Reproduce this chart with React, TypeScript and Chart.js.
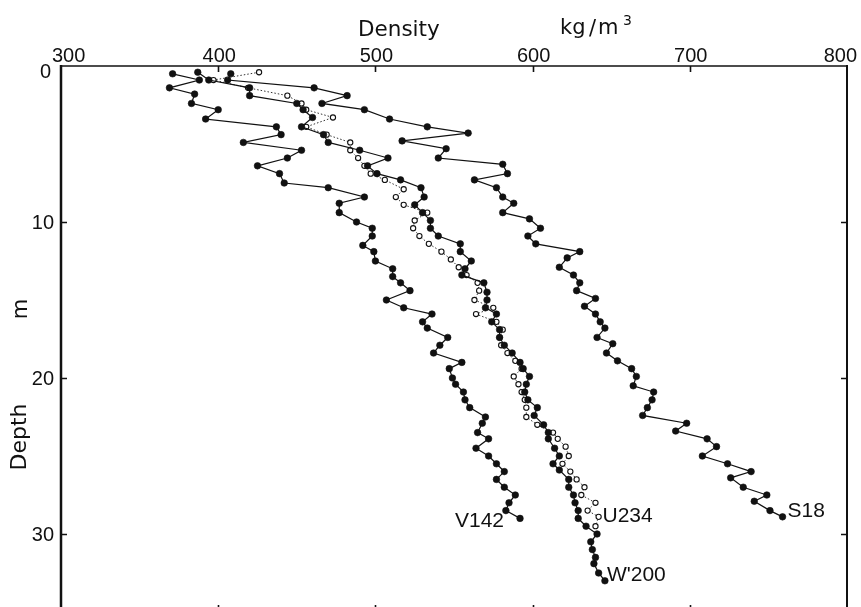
import React, { useEffect, useRef } from "react";
import { Chart, registerables } from "chart.js";

Chart.register(...registerables);

// ---- Data (density kg/m3 vs depth m) ----
const X_TICKS = [300, 400, 500, 600, 700, 800];
const Y_TICKS = [0, 10, 20, 30];

const DEPTH_V142 = [0.5, 0.9, 1.4, 1.8, 2.4, 2.8, 3.4, 3.9, 4.4, 4.9, 5.4, 5.9, 6.4, 6.9, 7.5, 7.8, 8.4, 8.8, 9.4, 10.0, 10.4, 10.9, 11.5, 11.9, 12.5, 13.0, 13.5, 13.9, 14.4, 15.0, 15.5, 15.9, 16.4, 16.8, 17.4, 17.9, 18.4, 19.0, 19.4, 20.0, 20.4, 20.9, 21.4, 21.9, 22.5, 22.9, 23.5, 23.9, 24.5, 25.0, 25.5, 26.0, 26.5, 27.0, 27.5, 28.0, 28.5, 29.0];
const DENS_V142 = [371, 388, 369, 385, 383, 400, 392, 437, 440, 416, 453, 444, 425, 439, 442, 470, 493, 477, 477, 488, 498, 498, 492, 499, 500, 511, 511, 516, 522, 507, 518, 536, 530, 533, 546, 541, 537, 555, 547, 549, 551, 556, 557, 560, 570, 568, 565, 572, 564, 572, 577, 582, 577, 582, 589, 585, 583, 592];

const DEPTH_W200 = [0.4, 0.9, 1.4, 1.9, 2.4, 2.8, 3.3, 3.9, 4.4, 4.9, 5.4, 5.9, 6.4, 6.9, 7.3, 7.8, 8.4, 8.9, 9.4, 9.9, 10.4, 10.9, 11.4, 11.9, 12.5, 13.0, 13.4, 13.9, 14.5, 15.0, 15.5, 15.9, 16.4, 16.9, 17.4, 17.9, 18.4, 19.0, 19.4, 19.9, 20.4, 20.9, 21.4, 21.9, 22.4, 23.0, 23.5, 23.9, 24.5, 25.0, 25.5, 25.9, 26.5, 27.0, 27.5, 28.0, 28.5, 29.0, 29.5, 30.0, 30.5, 31.0, 31.5, 31.9, 32.5, 33.0];
const DENS_W200 = [387, 394, 420, 420, 450, 454, 460, 453, 467, 470, 490, 508, 495, 501, 516, 529, 531, 525, 530, 535, 535, 540, 554, 554, 561, 557, 555, 569, 571, 571, 570, 577, 574, 579, 579, 582, 587, 592, 594, 598, 596, 595, 597, 603, 601, 607, 610, 610, 614, 617, 613, 617, 623, 623, 626, 627, 629, 629, 634, 641, 637, 638, 640, 639, 642, 646];

const DEPTH_U234 = [0.4, 0.9, 1.4, 1.9, 2.4, 2.8, 3.3, 3.9, 4.4, 4.9, 5.4, 5.9, 6.4, 6.9, 7.3, 7.9, 8.4, 8.9, 9.4, 9.9, 10.4, 10.9, 11.4, 11.9, 12.4, 12.9, 13.4, 13.9, 14.4, 15.0, 15.5, 15.9, 16.4, 16.9, 17.4, 17.9, 18.4, 18.9, 19.4, 19.9, 20.4, 20.9, 21.4, 21.9, 22.5, 23.0, 23.5, 23.9, 24.4, 25.0, 25.5, 26.0, 26.5, 27.0, 27.5, 28.0, 28.5, 28.9, 29.5];
const DENS_U234 = [426, 397, 419, 444, 453, 456, 473, 456, 469, 484, 484, 489, 493, 497, 506, 518, 513, 518, 533, 525, 524, 528, 534, 542, 548, 553, 558, 565, 566, 563, 575, 564, 577, 581, 579, 580, 584, 589, 593, 588, 591, 593, 595, 596, 596, 603, 613, 616, 621, 623, 619, 624, 628, 633, 631, 640, 635, 642, 640];

const DEPTH_S18 = [0.5, 0.9, 1.4, 1.9, 2.4, 2.8, 3.4, 3.9, 4.3, 4.8, 5.3, 5.9, 6.3, 6.9, 7.3, 7.8, 8.4, 8.8, 9.4, 9.8, 10.4, 10.9, 11.4, 11.9, 12.3, 12.9, 13.4, 13.9, 14.4, 14.9, 15.4, 15.9, 16.4, 16.8, 17.4, 17.8, 18.4, 18.9, 19.4, 19.9, 20.5, 20.9, 21.4, 21.9, 22.4, 22.9, 23.4, 23.9, 24.4, 25.0, 25.5, 26.0, 26.4, 27.0, 27.5, 27.9, 28.5, 28.9];
const DENS_S18 = [408, 406, 461, 482, 466, 493, 509, 533, 559, 517, 545, 540, 581, 584, 563, 577, 581, 588, 581, 598, 605, 597, 602, 630, 622, 617, 626, 630, 628, 640, 633, 640, 643, 646, 641, 651, 647, 654, 663, 666, 664, 677, 676, 673, 670, 698, 691, 711, 717, 708, 724, 739, 726, 734, 749, 741, 751, 759];

const toPoints = (dens: number[], depth: number[]) =>
  dens.map((v, i) => ({ x: v, y: depth[i] }));

const INK = "#111";
const SANS = '"Liberation Sans", Arial, sans-serif';
const DEJAVU = '"DejaVu Sans", sans-serif';

const framePlugin = {
  id: "framePlugin",
  beforeDraw(chart: any) {
    const { ctx, width, height } = chart;
    ctx.save();
    ctx.fillStyle = "#fff";
    ctx.fillRect(0, 0, width, height);
    ctx.restore();
  },
  afterDraw(chart: any) {
    const { ctx, chartArea: a, scales } = chart;
    const xs = scales.x;
    const ys = scales.y;
    ctx.save();
    ctx.strokeStyle = INK;
    ctx.lineCap = "butt";
    // frame
    ctx.lineWidth = 2.5;
    ctx.beginPath();
    ctx.moveTo(a.left, a.top - 1);
    ctx.lineTo(a.left, a.bottom);
    ctx.stroke();
    ctx.lineWidth = 1.6;
    ctx.beginPath();
    ctx.moveTo(a.left, a.top);
    ctx.lineTo(a.right, a.top);
    ctx.stroke();
    ctx.lineWidth = 2;
    ctx.beginPath();
    ctx.moveTo(a.right, a.top - 1);
    ctx.lineTo(a.right, a.bottom);
    ctx.stroke();
    // inner ticks
    ctx.lineWidth = 1.6;
    X_TICKS.forEach((v) => {
      if (v <= xs.min || v >= xs.max) return;
      const px = Math.round(xs.getPixelForValue(v)) + 0.5;
      ctx.beginPath();
      ctx.moveTo(px, a.top);
      ctx.lineTo(px, a.top + 6);
      ctx.moveTo(px, a.bottom);
      ctx.lineTo(px, a.bottom - 7);
      ctx.stroke();
    });
    Y_TICKS.forEach((v) => {
      if (v <= ys.min || v >= ys.max) return;
      const py = Math.round(ys.getPixelForValue(v)) + 0.5;
      ctx.beginPath();
      ctx.moveTo(a.left, py);
      ctx.lineTo(a.left + 6, py);
      ctx.moveTo(a.right, py);
      ctx.lineTo(a.right - 6, py);
      ctx.stroke();
    });
    // tick labels
    ctx.fillStyle = INK;
    ctx.font = `20px ${SANS}`;
    ctx.textBaseline = "alphabetic";
    X_TICKS.forEach((v, i) => {
      const px = xs.getPixelForValue(v);
      if (i === 0) {
        ctx.textAlign = "left";
        ctx.fillText(String(v), px - 9, 62);
      } else if (i === X_TICKS.length - 1) {
        ctx.textAlign = "right";
        ctx.fillText(String(v), px + 10, 62);
      } else {
        ctx.textAlign = "center";
        ctx.fillText(String(v), px + 1, 62);
      }
    });
    ctx.textAlign = "right";
    ctx.textBaseline = "middle";
    Y_TICKS.forEach((v) => {
      const py = ys.getPixelForValue(v);
      if (v === 0) ctx.fillText(String(v), 51, py + 6);
      else ctx.fillText(String(v), 54, py + 1);
    });
    // axis titles
    ctx.textAlign = "left";
    ctx.textBaseline = "alphabetic";
    ctx.font = `21.5px ${DEJAVU}`;
    ctx.fillText("Density", 358, 36);
    ctx.font = `21px ${DEJAVU}`;
    ctx.fillText("kg", 560, 34);
    ctx.fillText("/", 589, 35);
    ctx.fillText("m", 598, 34);
    ctx.font = `14px ${DEJAVU}`;
    ctx.fillText("3", 623, 25);

    ctx.save();
    ctx.translate(26, 437);
    ctx.rotate(-Math.PI / 2);
    ctx.font = `22px ${DEJAVU}`;
    ctx.textAlign = "center";
    ctx.fillText("Depth", 0, 0);
    ctx.restore();
    ctx.save();
    ctx.translate(27, 309);
    ctx.rotate(-Math.PI / 2);
    ctx.font = `21px ${DEJAVU}`;
    ctx.textAlign = "center";
    ctx.fillText("m", 0, 0);
    ctx.restore();

    // series labels near last points
    ctx.font = `21px ${SANS}`;
    ctx.textBaseline = "middle";
    chart.data.datasets.forEach((ds: any) => {
      const last = ds.data[ds.data.length - 1];
      const px = xs.getPixelForValue(last.x);
      const py = ys.getPixelForValue(last.y);
      const lab = ds.label;
      if (lab === "V142") {
        ctx.textAlign = "right";
        ctx.fillText(lab, px - 16, py + 3);
      } else if (lab === "U234") {
        ctx.textAlign = "left";
        ctx.fillText(lab, px + 7, py - 10);
      } else if (lab === "W'200") {
        ctx.textAlign = "left";
        ctx.fillText(lab, px + 2, py - 6);
      } else {
        ctx.textAlign = "left";
        ctx.fillText(lab, px + 5, py - 6);
      }
    });
    ctx.restore();
  },
};

export default function App() {
  const ref = useRef<HTMLCanvasElement | null>(null);

  useEffect(() => {
    if (!ref.current) return;
    let chart: Chart | null = null;
    let cancelled = false;
    const filled = (label: string, dens: number[], depth: number[]) => ({
      label,
      data: toPoints(dens, depth),
      showLine: true,
      borderColor: INK,
      borderWidth: 1.2,
      pointRadius: 3.3,
      pointBackgroundColor: INK,
      pointBorderColor: INK,
      pointBorderWidth: 0.6,
      tension: 0,
    });
    const build = () => {
      if (cancelled || !ref.current) return;
      chart = new Chart(ref.current, {
        type: "scatter",
        data: {
          datasets: [
            filled("W'200", DENS_W200, DEPTH_W200),
            {
              label: "U234",
              data: toPoints(DENS_U234, DEPTH_U234),
              showLine: true,
              borderColor: "#333",
              borderWidth: 1,
              borderDash: [1.5, 2],
              pointRadius: 2.6,
              pointBackgroundColor: "#fff",
              pointBorderColor: INK,
              pointBorderWidth: 1.1,
              tension: 0,
            },
            filled("V142", DENS_V142, DEPTH_V142),
            filled("S18", DENS_S18, DEPTH_S18),
          ],
        },
        options: {
          animation: false,
          responsive: false,
          maintainAspectRatio: false,
          layout: { padding: { left: 61, right: 14, top: 66, bottom: 8 } },
          plugins: {
            legend: { display: false },
            tooltip: { enabled: false },
            title: { display: false },
          },
          scales: {
            x: { type: "linear", min: 300, max: 800, display: false },
            y: { type: "linear", min: 0, max: 35, reverse: true, display: false },
          },
        },
        plugins: [framePlugin],
      });
    };
    const fonts: any = (document as any).fonts;
    if (fonts && fonts.load) {
      Promise.all([
        fonts.load('20px "Liberation Sans"'),
        fonts.load('21px "DejaVu Sans"'),
      ])
        .catch(() => null)
        .then(() => build());
    } else {
      build();
    }
    return () => {
      cancelled = true;
      if (chart) chart.destroy();
    };
  }, []);

  return (
    <div
      style={{
        position: "fixed",
        left: 0,
        top: 0,
        width: 861,
        height: 607,
        overflow: "hidden",
        background: "#fff",
      }}
    >
      <canvas ref={ref} width={861} height={620} style={{ display: "block" }} />
    </div>
  );
}
